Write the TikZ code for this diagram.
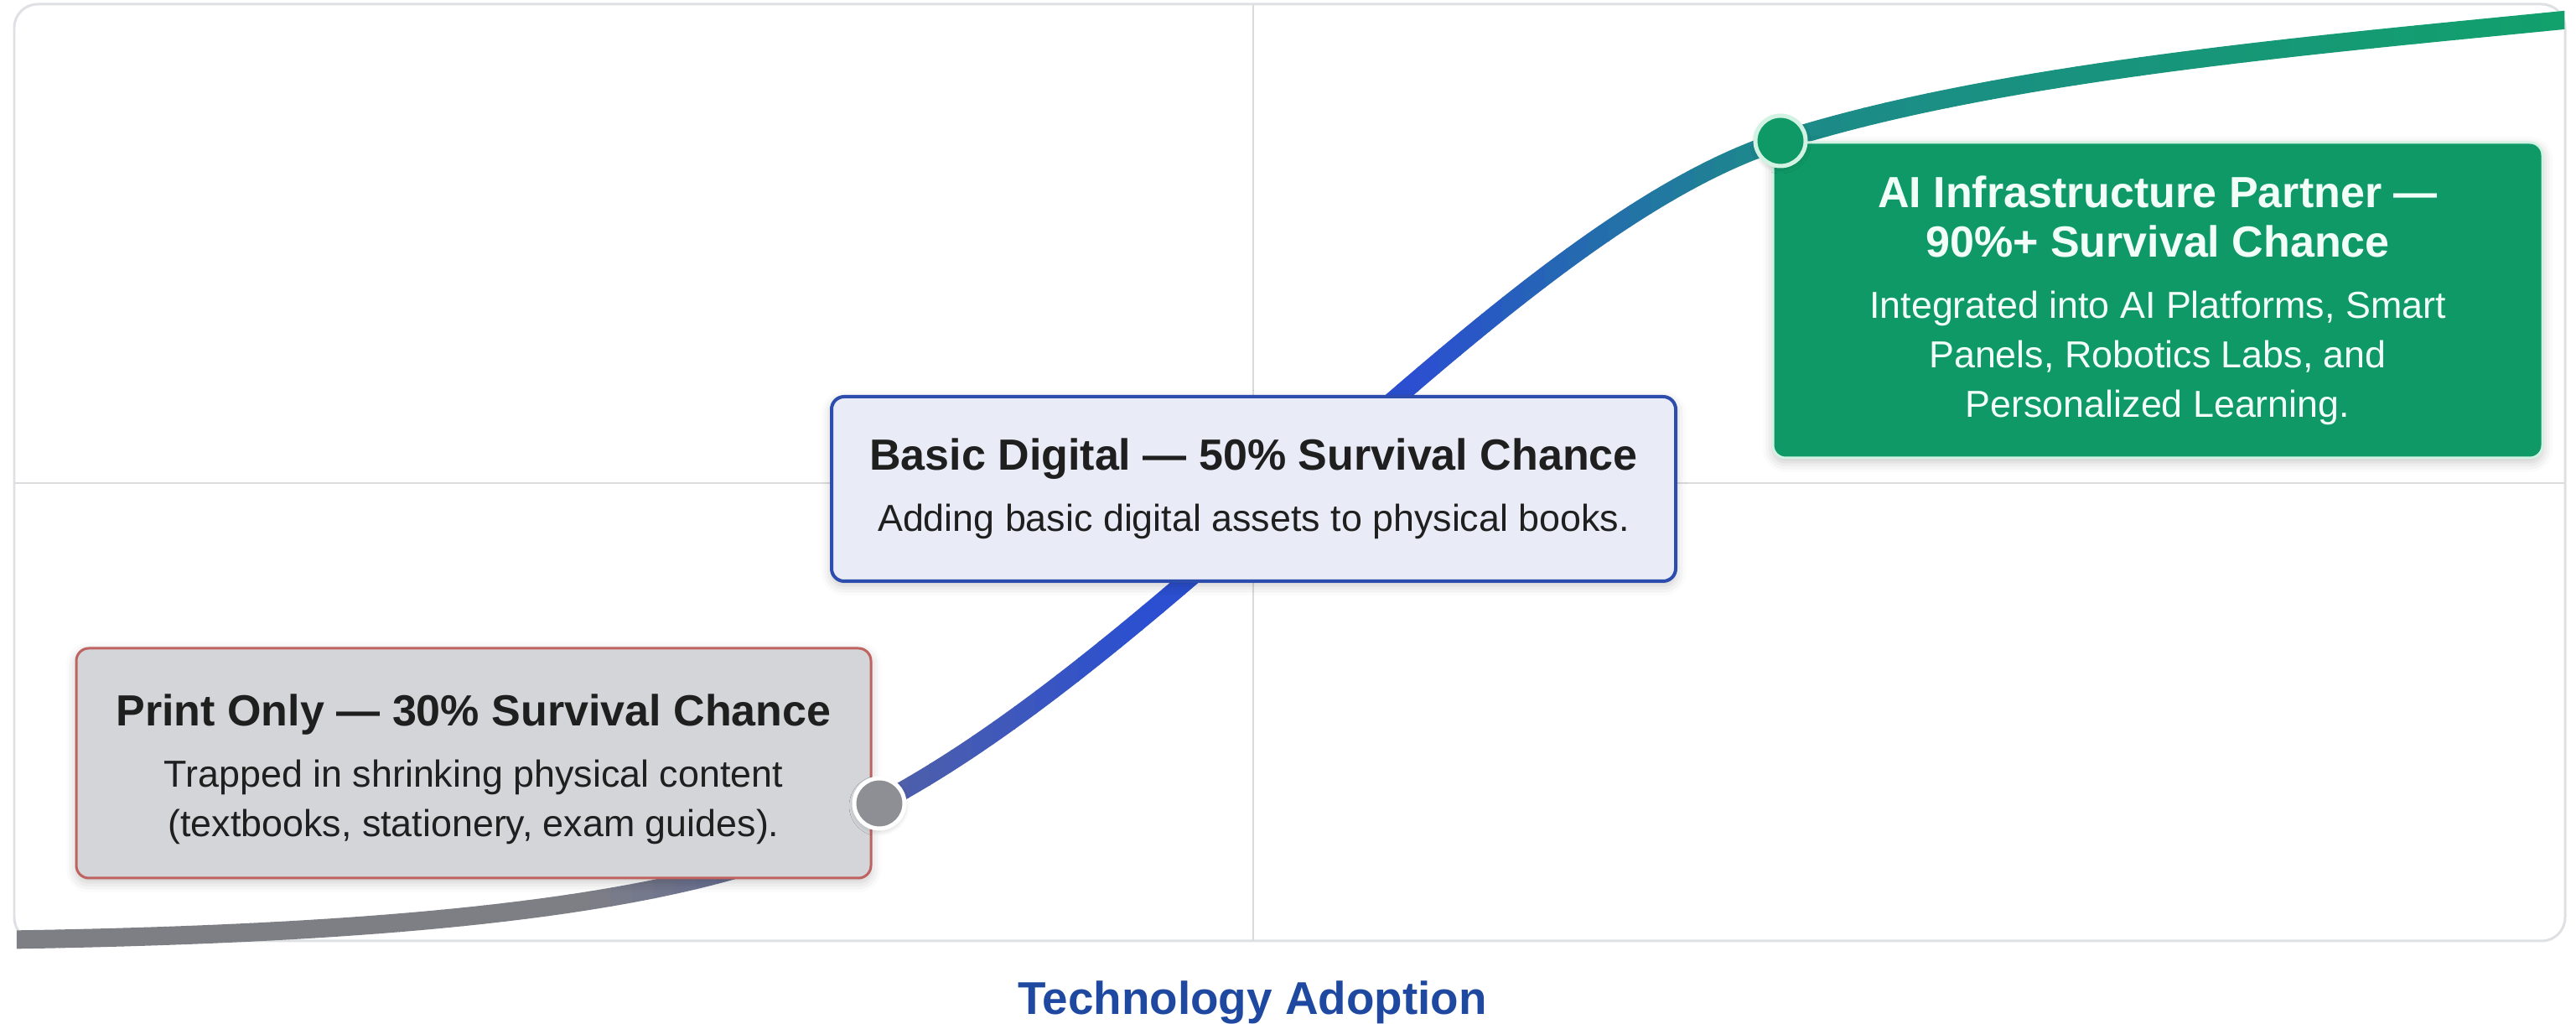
\documentclass[tikz,border=0pt]{standalone}
\usepackage{fontspec}
\setmainfont{Liberation Sans}
\usepackage{tikz}
\usetikzlibrary{shadows.blur}

\definecolor{framegray}{HTML}{DFE0E3}
\definecolor{gridgray}{HTML}{DADBDE}
\definecolor{cgray}{HTML}{7E7F85}
\definecolor{cslate}{HTML}{5060A8}
\definecolor{cblue}{HTML}{2B4FD0}
\definecolor{cteal}{HTML}{1D8A8A}
\definecolor{cgreen}{HTML}{12A06C}
\definecolor{printfill}{HTML}{D4D5D9}
\definecolor{printline}{HTML}{BF6360}
\definecolor{basicfill}{HTML}{E9ECF6}
\definecolor{basicline}{HTML}{2C4DAE}
\definecolor{aifill}{HTML}{0F9966}
\definecolor{ailine}{HTML}{D2F2E4}
\definecolor{aitext}{HTML}{F2FFF8}
\definecolor{axisblue}{HTML}{1F48A0}
\definecolor{dotgray}{HTML}{8E8F94}

\newcommand{\titlefont}{\fontsize{14.8}{16.8}\selectfont\bfseries}
\newcommand{\curveshade}[1]{%
  \pgfmathsetmacro\cf{min(1,max(0,#1))}%
  \ifdim\cf pt<0.22pt
    \colorlet{curvenow}{cgray}%
  \else\ifdim\cf pt<0.34pt
    \pgfmathtruncatemacro\cp{100*(\cf-0.22)/0.12}\colorlet{curvenow}{cslate!\cp!cgray}%
  \else\ifdim\cf pt<0.44pt
    \pgfmathtruncatemacro\cp{100*(\cf-0.34)/0.10}\colorlet{curvenow}{cblue!\cp!cslate}%
  \else\ifdim\cf pt<0.55pt
    \colorlet{curvenow}{cblue}%
  \else\ifdim\cf pt<0.69pt
    \pgfmathtruncatemacro\cp{100*(\cf-0.55)/0.14}\colorlet{curvenow}{cteal!\cp!cblue}%
  \else
    \pgfmathtruncatemacro\cp{min(100,100*(\cf-0.69)/0.31)}\colorlet{curvenow}{cgreen!\cp!cteal}%
  \fi\fi\fi\fi\fi}

\begin{document}
\begin{tikzpicture}[
    stagebox/.style={rounded corners=0.15cm, align=center, inner sep=0pt,
        font=\fontsize{12.75}{16.8}\selectfont,
        blur shadow={shadow xshift=0pt, shadow yshift=-0.05cm, shadow blur radius=0.12cm, shadow opacity=22}},
    printbox/.style={stagebox, fill=printfill, draw=printline, line width=0.03cm, text=black!88,
        minimum width=9.48cm, minimum height=2.74cm},
    basicbox/.style={stagebox, fill=basicfill, draw=basicline, line width=0.04cm, text=black!88,
        minimum width=10.07cm, minimum height=2.20cm},
    aibox/.style={stagebox, fill=aifill, draw=ailine, line width=0.03cm, text=aitext,
        minimum width=9.18cm, minimum height=3.76cm},
    stagedot/.style={circle, draw=white, line width=0.05cm, minimum size=0.6cm, inner sep=0pt,
        blur shadow={shadow xshift=0pt, shadow yshift=-0.03cm, shadow blur radius=0.06cm, shadow opacity=20}},
]
\useasboundingbox (0,0) rectangle (30.73,12.21);

\draw[framegray, line width=0.03cm, rounded corners=0.28cm] (0.17,0.99) rectangle (30.60,12.16);
\draw[gridgray, line width=0.02cm] (14.95,0.99) -- (14.95,12.15);
\draw[gridgray, line width=0.02cm] (0.18,6.45) -- (30.59,6.45);

\coordinate (start) at (0.10,1.005);
\coordinate (p1) at (10.49,2.63);
\coordinate (p2) at (21.24,10.53);
\coordinate (finish) at (30.68,11.98);

\foreach \i in {0,...,119}{
    \pgfmathsetmacro\xa{0.20+\i*0.2532}
    \pgfmathsetmacro\xb{\xa+0.2632}
    \curveshade{\i/119}
    \begin{scope}
        \clip (\xa,0) rectangle (\xb,12.21);
        \draw[curvenow, line width=0.22cm]
            (start) .. controls +(4.9,0.075) and +(-1.49,-1.18) .. (p1)
                    .. controls +(3.6,1.9) and +(-3.2,-1.024) .. (p2)
                    .. controls +(2.6,0.832) and +(-3,-0.3) .. (finish);
    \end{scope}
}

\node[printbox] (print) at (5.65,3.11)
    {{\titlefont\rule{0pt}{0.52cm}Print Only — 30\% Survival Chance}\\[4pt]Trapped in shrinking physical content\\(textbooks, stationery, exam guides).};
\node[basicbox] (basic) at (14.955,6.38)
    {{\titlefont Basic Digital — 50\% Survival Chance}\\[4pt]Adding basic digital assets to physical books.};
\node[aibox] (ai) at (25.74,8.63)
    {{\titlefont AI Infrastructure Partner —}\\{\titlefont 90\%+ Survival Chance}\\[4pt]Integrated into AI Platforms, Smart\\Panels, Robotics Labs, and\\Personalized Learning.};

\node[stagedot, fill=dotgray] (printdot) at (p1) {};
\node[stagedot, fill=aifill, draw=ailine] (aidot) at (p2) {};

\node[font=\fontsize{15.6}{18}\selectfont\bfseries, text=axisblue, anchor=base] (axis) at (14.94,0.11) {Technology Adoption};
\end{tikzpicture}
\end{document}
